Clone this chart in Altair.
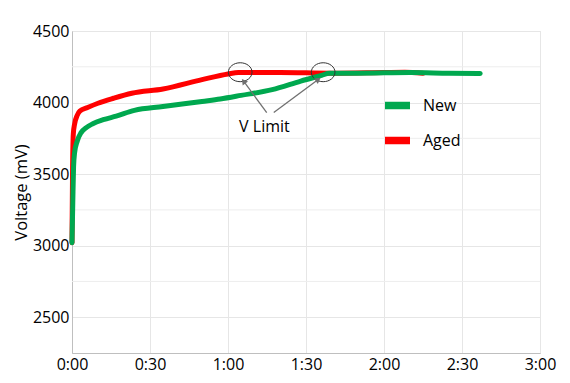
import altair as alt
import pandas as pd

# Time in minutes, voltage in mV
new_t = [0, 0.3, 0.6, 1, 2, 3.5, 5.5, 8, 12, 17, 24, 35, 50, 57, 65, 77, 88, 96, 99, 110, 130, 145, 157]
new_v = [3020, 3300, 3550, 3650, 3730, 3790, 3825, 3852, 3880, 3905, 3945, 3972, 4008, 4025, 4050, 4090, 4150, 4190, 4205, 4205, 4210, 4205, 4203]
aged_t = [0, 0.2, 0.5, 1, 2, 3, 6, 10, 16, 23, 35, 50, 60, 64, 80, 100, 120, 128, 135]
aged_v = [3020, 3500, 3780, 3850, 3910, 3940, 3965, 3995, 4030, 4065, 4095, 4160, 4200, 4210, 4210, 4205, 4210, 4212, 4205]

series = ["New", "Aged"]
colors = ["#00A84F", "#FF0000"]

x_ticks = [0, 30, 60, 90, 120, 150, 180]
y_ticks = [2500, 3000, 3500, 4000, 4500]
y_minor = [2750, 3250, 3750, 4250]

# annotations
ell_t = [64.7, 96.6]
ell_v = [4212, 4212]
arrow_t = [74.9, 77.6]
arrow_v = [3930, 3930]
arrow_t2 = [66.0, 94.7]
arrow_v2 = [4149, 4161]
arrow_angle = [323, 54]
label_text = ["V Limit"]
label_t = [74]
label_v = [3832]

FONT = "Open Sans"

df = pd.concat([
    pd.DataFrame({"t": aged_t, "v": aged_v, "s": "Aged"}),
    pd.DataFrame({"t": new_t, "v": new_v, "s": "New"}),
])

xscale = alt.Scale(domain=[0, 180], nice=False, zero=False)
yscale = alt.Scale(domain=[2250, 4500], nice=False, zero=False)
cscale = alt.Scale(domain=series, range=colors)

xaxis = alt.Axis(values=x_ticks, title=None, grid=True, ticks=False,
                 labelExpr="floor(datum.value/60) + ':' + (datum.value % 60 < 10 ? '0' : '') + (datum.value % 60)",
                 labelFontSize=16, labelFont=FONT, labelColor="#000000", labelPadding=3,
                 domainColor="#bfbfbf", gridColor="#e6e6e6", labelFlush=False)
yaxis = alt.Axis(values=y_ticks, title="Voltage (mV)", grid=True, ticks=False, format="d",
                 labelFontSize=16, labelFont=FONT, labelColor="#000000", labelPadding=3,
                 titleFontSize=16.5, titleFont=FONT, titleFontWeight="normal", titleColor="#000000",
                 titlePadding=3, domainColor="#bfbfbf", gridColor="#e6e6e6", labelFlush=False)

legend = alt.Legend(title=None, orient="none", legendX=309, legendY=58,
                    symbolType="stroke", symbolSize=625, symbolStrokeWidth=7.5,
                    labelFontSize=16, labelFont=FONT, labelColor="#000000",
                    labelOffset=9, rowPadding=3, padding=0)

X = lambda f: alt.X(f, scale=xscale, axis=xaxis)
Y = lambda f: alt.Y(f, scale=yscale, axis=yaxis)

minor_df = pd.DataFrame({"v": y_minor})
minor = alt.Chart(minor_df).mark_rule(color="#ededed", strokeWidth=1).encode(y=Y("v:Q"))

def line_for(name):
    return alt.Chart(df).transform_filter(alt.datum.s == name).mark_line(
        strokeWidth=5, strokeCap="round", strokeJoin="round", interpolate="monotone"
    ).encode(
        x=X("t:Q"), y=Y("v:Q"),
        color=alt.Color("s:N", scale=cscale, legend=legend),
        order=alt.Order("t:Q"),
    )

ell_df = pd.DataFrame({"t": ell_t, "v": ell_v})
arr_df = pd.DataFrame({"t": arrow_t, "v": arrow_v, "t2": arrow_t2, "v2": arrow_v2, "a": arrow_angle})
lab_df = pd.DataFrame({"t": label_t, "v": label_v, "txt": label_text})

ellipses = alt.Chart(ell_df).mark_point(
    shape="M-1,0A1,0.8,0,1,1,1,0A1,0.8,0,1,1,-1,0Z", size=560, filled=False,
    stroke="#333333", strokeWidth=1, opacity=1
).encode(x=X("t:Q"), y=Y("v:Q"))

arrows = alt.Chart(arr_df).mark_rule(color="#707070", strokeWidth=1.3).encode(
    x=X("t:Q"), y=Y("v:Q"), x2="t2:Q", y2="v2:Q")

heads = alt.Chart(arr_df).mark_point(shape="triangle-up", size=45, filled=True,
                                     color="#707070", opacity=1).encode(
    x=X("t2:Q"), y=Y("v2:Q"), angle=alt.Angle("a:Q", scale=None))

label = alt.Chart(lab_df).mark_text(font=FONT, fontSize=16, color="#000000").encode(
    x=X("t:Q"), y=Y("v:Q"), text="txt:N")

chart = alt.layer(minor, line_for("Aged"), line_for("New"), ellipses, arrows, heads, label).properties(
    width=468, height=322,
    autosize=alt.AutoSizeParams(type="none"),
    padding={"left": 64, "top": 23, "right": 20, "bottom": 20},
).configure_view(stroke="#d0d0d0", strokeWidth=1).configure(background="#ffffff")

chart.save("out.html", embed_options={"renderer": "svg", "actions": False})
